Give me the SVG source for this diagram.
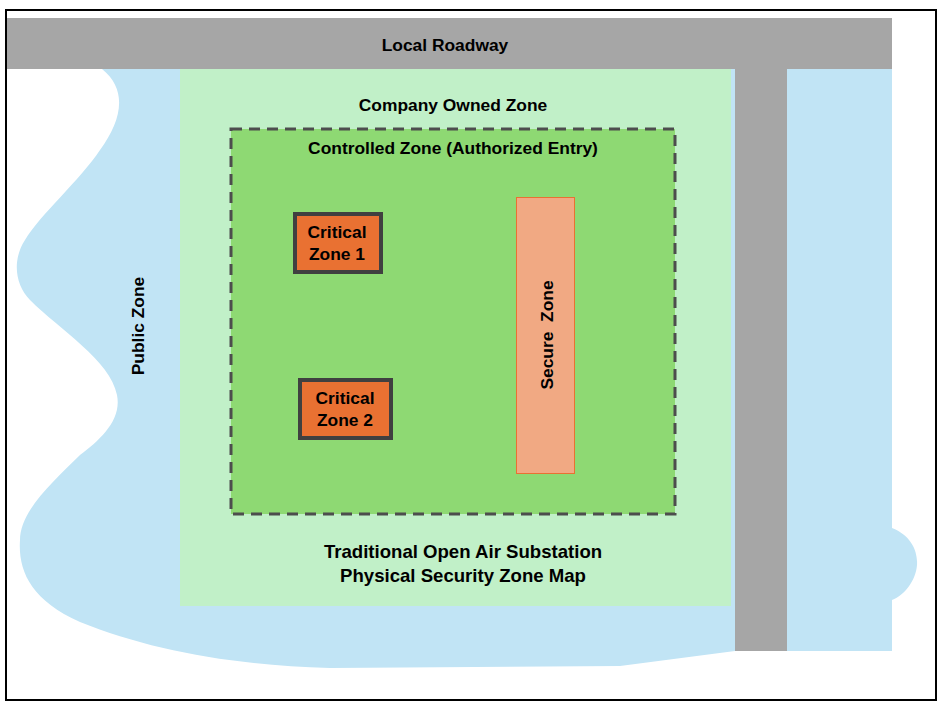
<svg xmlns="http://www.w3.org/2000/svg" width="943" height="707" viewBox="0 0 943 707">
<style>
text{font-family:"Liberation Sans",Arial,sans-serif;font-weight:bold;fill:#000;text-anchor:middle}
.t17{font-size:18.6px}
.t16{font-size:17.4px}
.blue{fill:#c1e4f5}
.road{fill:#a6a6a6}
.crit{fill:#e97132;stroke:#404040;stroke-width:4}
</style>
<rect x="0" y="0" width="943" height="707" fill="#fff"/>
<g id="public-zone">
<path class="blue" d="M102,69 C128,90 122,120 100,150 C80,180 40,215 25,240 C12,260 15,285 30,300 C60,330 110,360 117,395 C122,420 100,440 80,455 C55,480 20,510 20,540 C18,570 30,600 80,622 C150,650 230,665 330,668 L620,666 L735,651 L735,69 Z"/>
<path class="blue" d="M787,69 L892,69 L892,528 C910,535 918,550 917,565 C916,580 905,595 892,600 L892,651 L787,651 Z"/>
<text class="t16" transform="translate(144,326) rotate(-90)">Public Zone</text>
</g>
<g id="company-owned-zone">
<rect x="180" y="69" width="551" height="537" fill="#c1f0c8"/>
<text class="t16" x="453" y="111">Company Owned Zone</text>
<text class="t17" x="463" y="558">Traditional Open Air Substation</text>
<text class="t17" x="463" y="582">Physical Security Zone Map</text>
</g>
<g id="roadway">
<rect class="road" x="6" y="18" width="886" height="51"/>
<rect class="road" x="735" y="69" width="52" height="582"/>
<text class="t16" x="445" y="51">Local Roadway</text>
</g>
<g id="controlled-zone">
<rect x="231" y="129" width="444" height="385" fill="#8ed973" stroke="#4d4d4d" stroke-width="3" stroke-dasharray="11 7"/>
<text class="t16" x="453" y="154">Controlled Zone (Authorized Entry)</text>
</g>
<g id="critical-zone-1">
<rect class="crit" x="295" y="214" width="86" height="58"/>
<text class="t16" x="337" y="238">Critical</text>
<text class="t16" x="337" y="260">Zone 1</text>
</g>
<g id="critical-zone-2">
<rect class="crit" x="300" y="380" width="91" height="58"/>
<text class="t16" x="345" y="404">Critical</text>
<text class="t16" x="345" y="426">Zone 2</text>
</g>
<g id="secure-zone">
<rect x="516.5" y="197.5" width="58" height="276" fill="#f1a983" stroke="#e97132" stroke-width="1"/>
<text class="t16" transform="translate(553,335) rotate(-90)" xml:space="preserve">Secure  Zone</text>
</g>
<g id="connectors"></g>
<rect x="6" y="10" width="930" height="690" fill="none" stroke="#000" stroke-width="2"/>
</svg>
